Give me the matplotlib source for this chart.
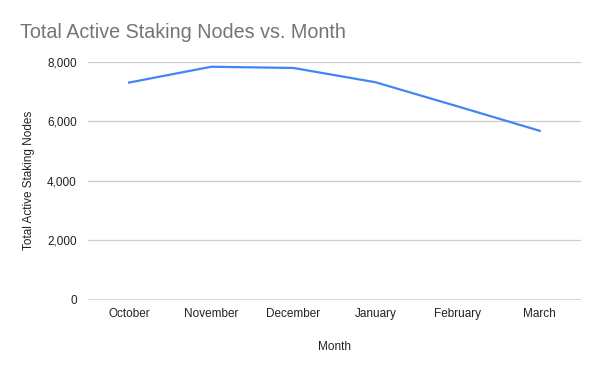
import matplotlib
matplotlib.use("Agg")
import matplotlib.pyplot as plt
from matplotlib.ticker import FuncFormatter

# data
months = ["October", "November", "December", "January", "February", "March"]
nodes = [7300, 7830, 7790, 7310, 6500, 5680]
y_ticks = [0, 2000, 4000, 6000, 8000]

plt.rcParams['font.family'] = ['Liberation Sans', 'DejaVu Sans']

fig = plt.figure(figsize=(6, 3.71), dpi=100)
ax = fig.add_axes([0.1467, 0.1914, 0.8213, 0.6423])

x = list(range(len(months)))
ax.plot(x, nodes, color='#4285F4', lw=1.6, solid_joinstyle='round', zorder=3)

ax.set_xlim(-0.5, len(months) - 0.5)
ax.set_ylim(0, 8000)
ax.set_yticks(y_ticks)
ax.yaxis.set_major_formatter(FuncFormatter(lambda v, p: f"{int(v):,}"))
ax.set_xticks(x)
ax.set_xticklabels(months)

# gridlines: light gray, zero line dark
for t in y_ticks[1:]:
    ax.axhline(t, color='#cccccc', lw=0.9, zorder=1)
ax.axhline(0, color='#333333', lw=1.0, zorder=2)

for s in ax.spines.values():
    s.set_visible(False)
ax.tick_params(length=0, labelsize=8.5, colors='#222222')
ax.tick_params(axis='y', pad=8)
ax.tick_params(axis='x', pad=6)

ax.set_xlabel("Month", fontsize=8.5, color='#222222', labelpad=15)
ax.set_ylabel("Total Active Staking Nodes", fontsize=8.5, color='#222222', labelpad=9)

fig.text(20 / 600, 1 - 32 / 371, "Total Active Staking Nodes vs. Month",
         fontsize=14.2, color='#757575', va='center', ha='left')

fig.savefig("out.png", dpi=100)
